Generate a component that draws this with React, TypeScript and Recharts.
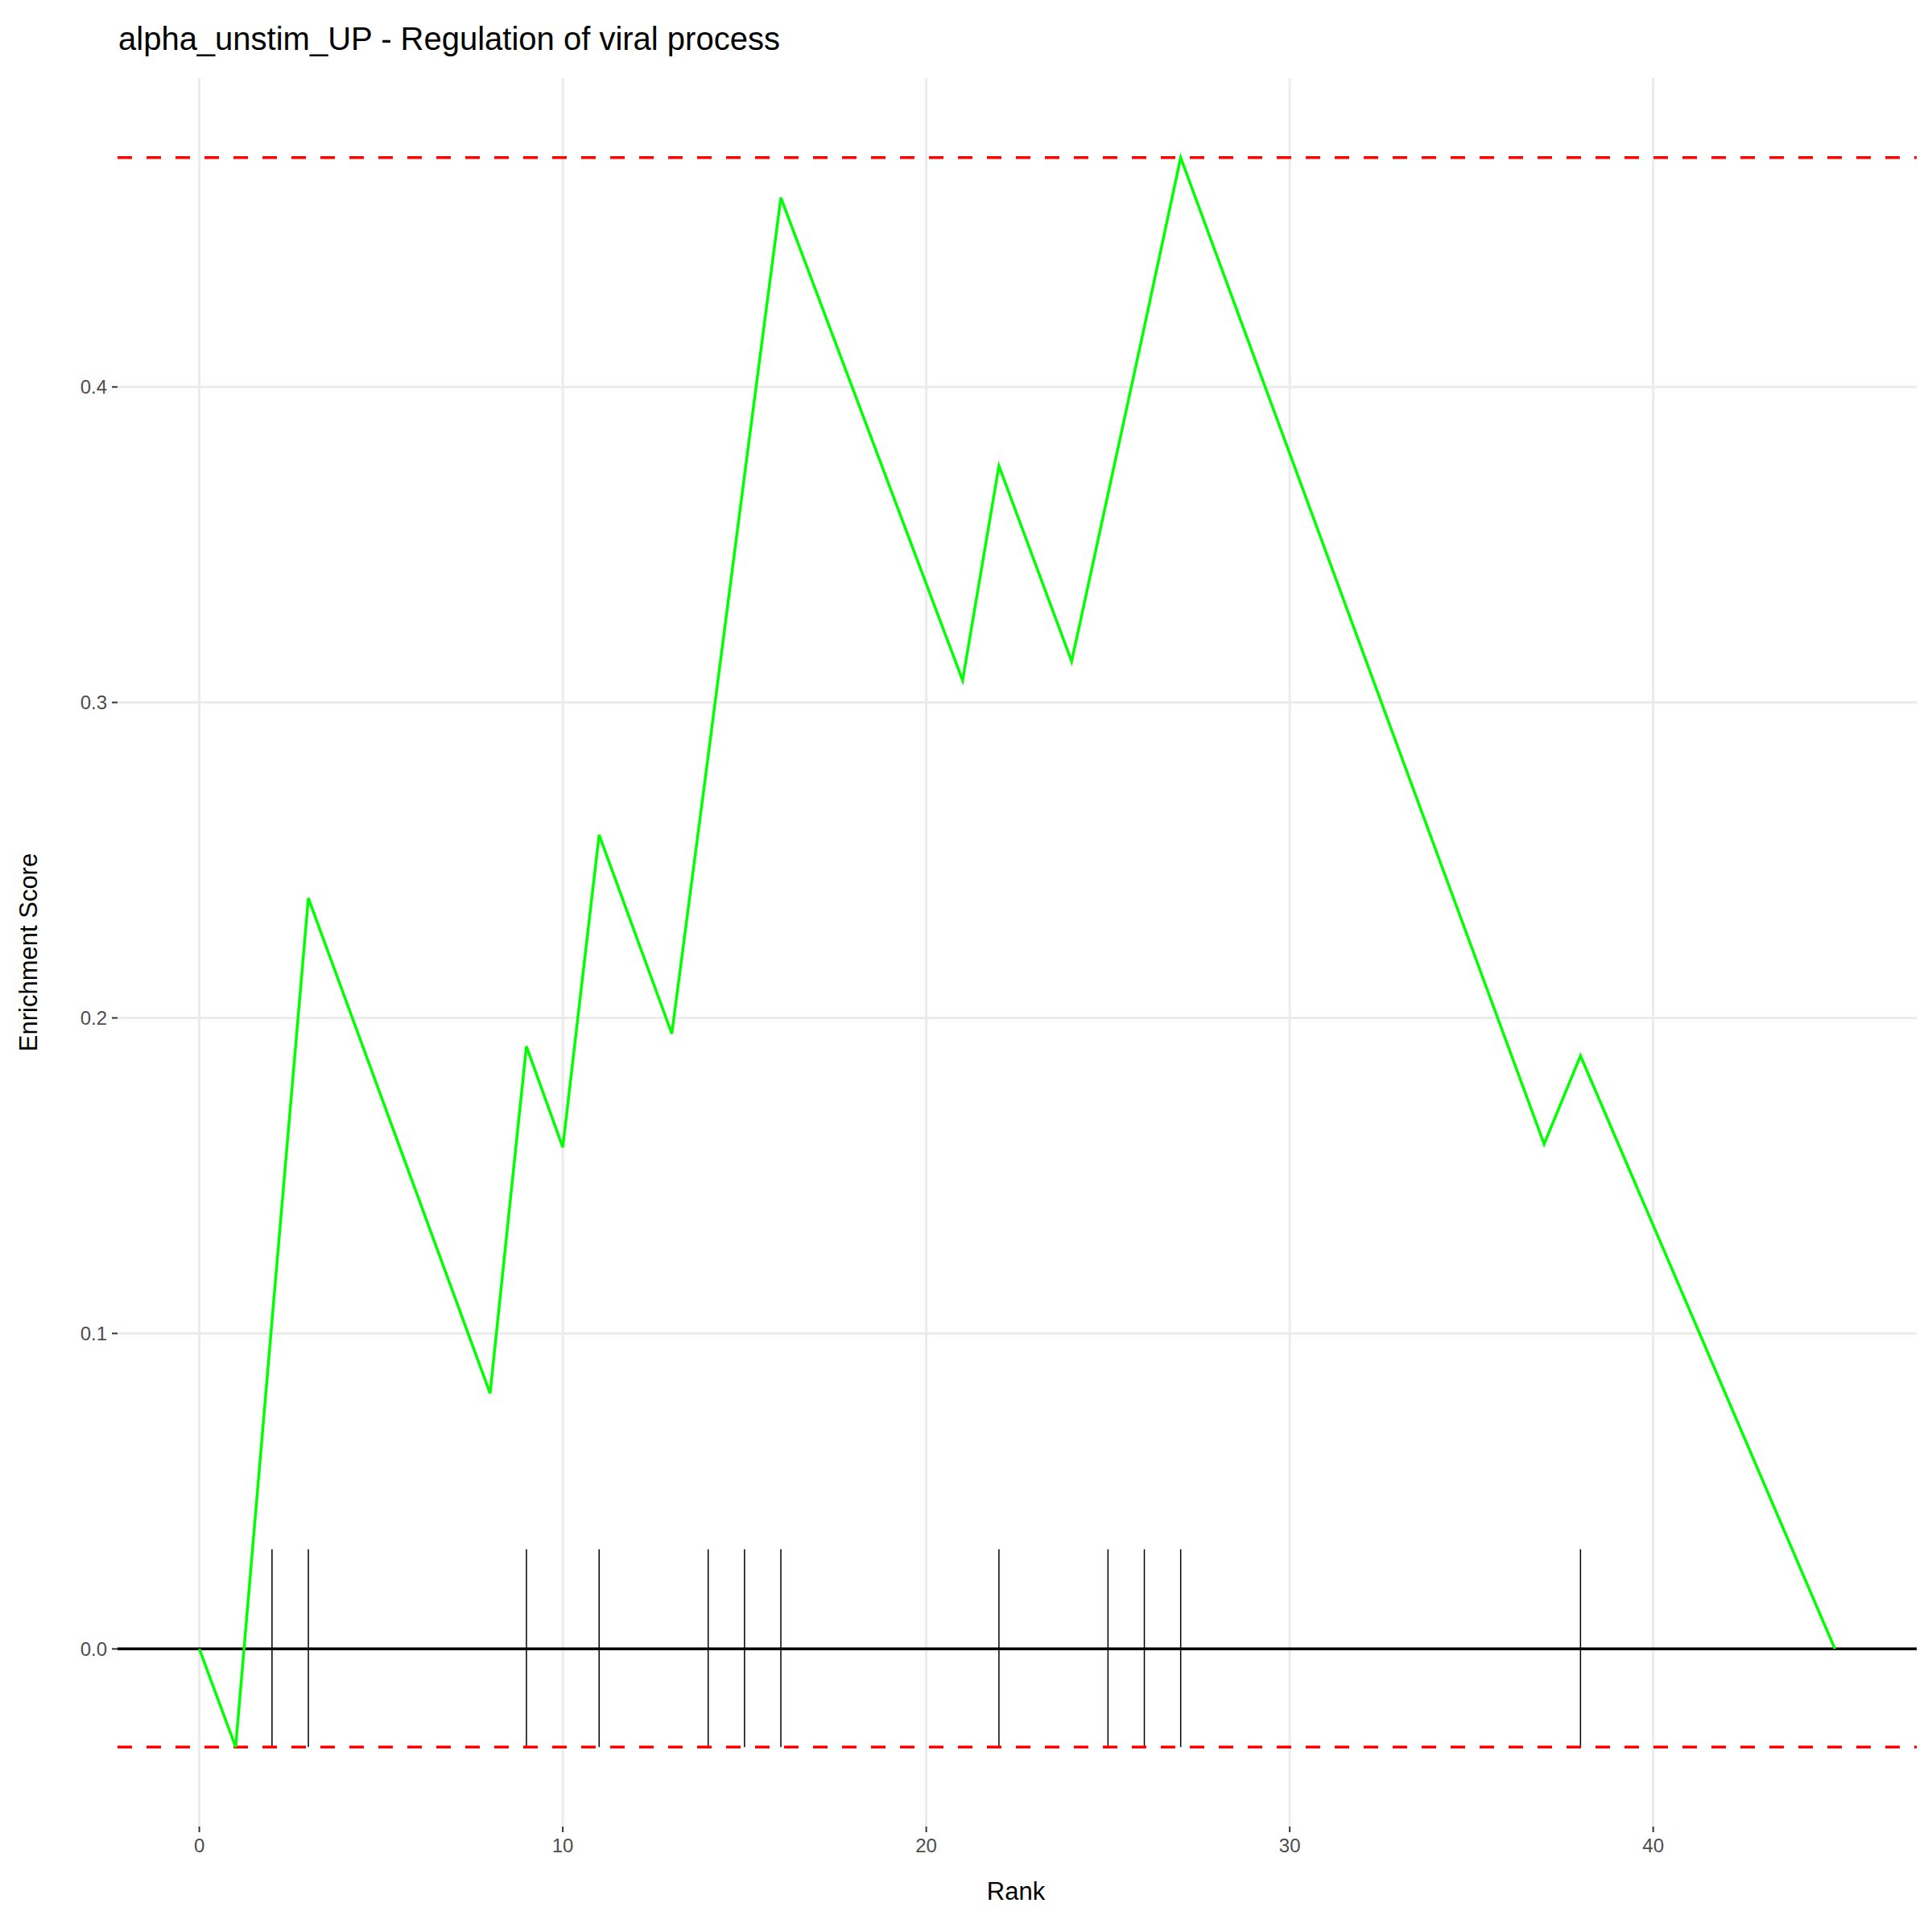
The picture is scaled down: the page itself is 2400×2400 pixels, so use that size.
import React from "react";
import { LineChart, Line, XAxis, YAxis, ReferenceLine } from "recharts";

const ranks = [0, 1, 2, 3, 8, 9, 10, 11, 13, 14, 15, 16, 21, 22, 24, 25, 26, 27, 37, 38, 45];
const scores = [0, -0.0311, 0.104, 0.238, 0.081, 0.191, 0.159, 0.258, 0.195, 0.283, 0.372, 0.460, 0.307, 0.375, 0.313, 0.366, 0.419, 0.4727, 0.160, 0.188, 0.0];
const hits = [2, 3, 9, 11, 14, 15, 16, 22, 25, 26, 27, 38];
const esMax = 0.4727;
const esMin = -0.0311;
const hitTop = 0.0316;
const xTicks = [0, 10, 20, 30, 40];
const yTicks = [0, 0.1, 0.2, 0.3, 0.4];

const data = ranks.map((r, i) => ({ rank: r, es: scores[i] }));

export default function App() {
  const font = "Liberation Sans, Arial, sans-serif";
  return (
    <div style={{ position: "absolute", left: 0, top: 0, width: 2400, height: 2400, background: "#fff", fontFamily: font }}>
      <div style={{ position: "absolute", left: 147, top: 24, fontSize: 40, color: "#000", lineHeight: "48px" }}>
        alpha_unstim_UP - Regulation of viral process
      </div>
      <div style={{ position: "absolute", left: 1262, top: 2330, transform: "translateX(-50%)", fontSize: 31, lineHeight: "40px" }}>
        Rank
      </div>
      <div style={{ position: "absolute", left: 36, top: 1183, fontSize: 31, transform: "translate(-50%,-50%) rotate(-90deg)", whiteSpace: "nowrap" }}>
        Enrichment Score
      </div>
      <LineChart width={2400} height={2400} data={data} margin={{ top: 97, right: 19, bottom: 71, left: 46 }}>
        <XAxis type="number" dataKey="rank" domain={[-2.25, 47.25]} ticks={xTicks} allowDataOverflow
          axisLine={false} tickLine={{ stroke: "#333", strokeWidth: 2 }} tickSize={7} height={60}
          tick={{ fill: "#4d4d4d", fontSize: 24, fontFamily: font, dy: 6 }} />
        <YAxis type="number" domain={[-0.0563, 0.4979]} ticks={yTicks} allowDataOverflow
          axisLine={false} tickLine={{ stroke: "#333", strokeWidth: 2 }} tickSize={7} width={100}
          tickFormatter={(v: number) => v.toFixed(1)}
          tick={{ fill: "#4d4d4d", fontSize: 24, fontFamily: font, dx: -4 }} />
        {xTicks.map((t) => (
          <ReferenceLine key={"gx" + t} x={t} stroke="#ebebeb" strokeWidth={3} />
        ))}
        {yTicks.map((t) => (
          <ReferenceLine key={"gy" + t} y={t} stroke="#ebebeb" strokeWidth={3} />
        ))}
        <ReferenceLine y={0} stroke="#000" strokeWidth={3.5} />
        {hits.map((h) => (
          <ReferenceLine key={h} segment={[{ x: h, y: esMin }, { x: h, y: hitTop }]} stroke="#000" strokeWidth={1.5} />
        ))}
        <ReferenceLine y={esMax} stroke="#ff0000" strokeWidth={3.5} strokeDasharray="18 18" />
        <ReferenceLine y={esMin} stroke="#ff0000" strokeWidth={3.5} strokeDasharray="18 18" />
        <Line type="linear" dataKey="es" stroke="#00ff00" strokeWidth={3.5} dot={false} isAnimationActive={false} />
      </LineChart>
    </div>
  );
}
